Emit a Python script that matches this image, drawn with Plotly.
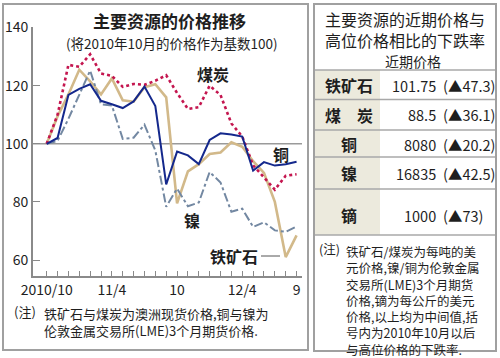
import plotly.graph_objects as go

# ---------------- data ----------------
month_idx = list(range(24))
month_labels = ["2010/10", "", "", "", "", "", "11/4", "", "", "", "", "",
                "10", "", "", "", "", "", "12/4", "", "", "", "", "9"]

iron_ore = [100, 109.5, 117, 125.5, 121.5, 117, 122.5, 115, 114.5, 119.5, 120.5, 116,
            79.5, 90.5, 93, 96.5, 97, 100.5, 99, 94, 90, 80, 61, 68.5]
coal = [100, 110, 127.2, 126.5, 130.8, 124.2, 123.4, 119.6, 120.6, 120.3, 121.7, 123.6,
        117.5, 112, 112.6, 120, 116.8, 107, 102.5, 92.6, 88.4, 84.2, 89, 89.5]
copper = [100, 102, 116.8, 118.9, 120.5, 114.8, 113.6, 112.3, 114.6, 119.7, 113, 86,
          97.3, 96, 93, 101.3, 103.6, 103.2, 102.5, 90.8, 93.7, 92.5, 93, 93.8]
nickel = [100, 101, 108.6, 117, 125.2, 113.6, 113.2, 101.7, 102.1, 106.6, 97.7, 78.3,
          84.6, 78.5, 79.8, 90.3, 86.7, 76.6, 77.7, 71.4, 73, 70.2, 69.7, 71.5]

y_ticks = [60, 80, 100, 120, 140]

table_names = ["铁矿石", "煤　炭", "铜", "镍", "镝"]
table_prices = ["101.75", "88.5", "8080", "16835", "1000"]
table_drops = ["(▲47.3)", "(▲36.1)", "(▲20.2)", "(▲42.5)", "(▲73)"]

left_title = "主要资源的价格推移"
left_subtitle = "(将2010年10月的价格作为基数100)"
note_mark = "(注)"
left_note = ["铁矿石与煤炭为澳洲现货价格,铜与镍为", "伦敦金属交易所(LME)3个月期货价格."]
right_title = ["主要资源的近期价格与", "高位价格相比的下跌率"]
right_header = "近期价格"
right_note = ["铁矿石/煤炭为每吨的美", "元价格,镍/铜为伦敦金属", "交易所(LME)3个月期货",
              "价格,镝为每公斤的美元", "价格,以上均为中间值,括", "号内为2010年10月以后",
              "与高位价格的下跌率."]

# ---------------- helpers ----------------
W, H = 500, 358
def px(x):
    return x / W
def py(y):
    return 1 - y / H

CJK = "Noto Sans CJK SC, Noto Sans, sans-serif"
NUM = "Liberation Sans Narrow, Noto Sans CJK SC, sans-serif"
TXT = "#1e1e1e"

fig = go.Figure()

fig.add_trace(go.Scatter(x=month_idx, y=iron_ore, mode="lines", name="铁矿石",
                         line=dict(color="#d2b98a", width=2.6)))
fig.add_trace(go.Scatter(x=month_idx, y=nickel, mode="lines", name="镍",
                         line=dict(color="#7388a2", width=2, dash="dashdot")))
fig.add_trace(go.Scatter(x=month_idx, y=coal, mode="lines", name="煤炭",
                         line=dict(color="#c4164f", width=2.6, dash="dot")))
fig.add_trace(go.Scatter(x=month_idx, y=copper, mode="lines", name="铜",
                         line=dict(color="#14288c", width=2)))

shapes = []
shapes.append(dict(type="line", xref="x domain", yref="y", x0=0, x1=1, y0=100, y1=100,
                   line=dict(color="#9a9a9a", width=1.6), layer="below"))
shapes.append(dict(type="rect", xref="paper", yref="paper", x0=px(3), x1=px(308),
                   y0=py(350), y1=py(4), line=dict(color="#a0a0a0", width=2)))
shapes.append(dict(type="rect", xref="paper", yref="paper", x0=px(314), x1=px(496),
                   y0=py(351), y1=py(4), line=dict(color="#a0a0a0", width=2)))
shapes.append(dict(type="rect", xref="paper", yref="paper", x0=px(315), x1=px(380),
                   y0=py(235), y1=py(70), fillcolor="#eceadd", line=dict(width=0),
                   layer="below"))
for yy in [70, 99.5, 130, 157, 189, 235]:
    shapes.append(dict(type="line", xref="paper", yref="paper", x0=px(315), x1=px(495),
                       y0=py(yy), y1=py(yy), line=dict(color="#a8a8a8", width=1.5)))
shapes.append(dict(type="line", xref="paper", yref="paper", x0=px(261), x1=px(280),
                   y0=py(256), y1=py(256), line=dict(color="#555555", width=1)))

ann = []
def text(x, y, s, size, bold=False, xanchor="center", family=CJK, color=TXT,
         yanchor="middle", align="center"):
    ann.append(dict(x=px(x), y=py(y), xref="paper", yref="paper",
                    text=(f"<b>{s}</b>" if bold else s),
                    showarrow=False, xanchor=xanchor, yanchor=yanchor, align=align,
                    borderpad=0, font=dict(size=size, family=family, color=color)))

text(169, 20, left_title, 17, bold=True)
text(172, 43, left_subtitle, 13.5)
text(213, 74, "煤炭", 16, bold=True)
text(281, 154, "铜", 16, bold=True)
text(192, 220, "镍", 16, bold=True)
text(234, 256, "铁矿石", 16, bold=True)
text(13, 311, note_mark, 13, xanchor="left")
text(43, 302.5, "<br>".join(left_note), 13, xanchor="left", yanchor="top", align="left")

text(405, 30, "<br>".join(right_title), 16)
text(413, 61, right_header, 14)
row_y = [85, 115, 144, 173, 215]
for nm, pr, dr, yy in zip(table_names, table_prices, table_drops, row_y):
    text(349, yy, nm, 16, bold=True)
    text(437, yy, pr, 14.5, xanchor="right", family=NUM)
    text(442, yy, dr, 14.5, xanchor="left", family=NUM)

text(318, 248.5, note_mark, 12.5, xanchor="left")
text(345, 240.5, "<br>".join(right_note), 12.5, xanchor="left", yanchor="top", align="left")

fig.update_layout(
    width=W, height=H, autosize=False,
    margin=dict(l=0, r=0, t=0, b=0, pad=0),
    paper_bgcolor="white", plot_bgcolor="white",
    showlegend=False,
    shapes=shapes, annotations=ann,
    xaxis=dict(domain=[px(33), px(302)], range=[-1.26, 23.5], automargin=False,
               tickmode="array", tickvals=month_idx, ticktext=month_labels,
               ticks="inside", ticklen=5, tickcolor="#8a8a8a", tickwidth=1.2,
               showline=True, linecolor="#8a8a8a", linewidth=2,
               showgrid=False, zeroline=False,
               tickfont=dict(size=14, family=NUM, color=TXT)),
    yaxis=dict(domain=[py(276), py(27)], range=[54.5, 140.2], automargin=False,
               tickmode="array", tickvals=y_ticks,
               ticks="inside", ticklen=7, tickcolor="#8a8a8a", tickwidth=1.2,
               showline=True, linecolor="#8a8a8a", linewidth=2,
               showgrid=False, zeroline=False,
               tickfont=dict(size=14, family=NUM, color=TXT)),
)

fig.write_html("out.html", config={"displayModeBar": False},
               post_script="document.body.style.margin='0px';")
